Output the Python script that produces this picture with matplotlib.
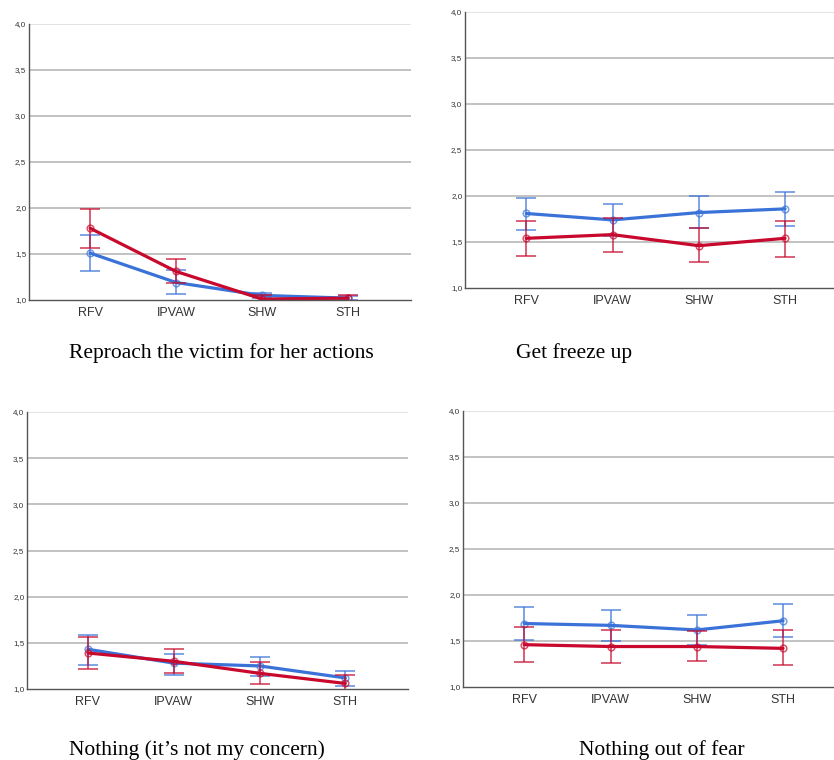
import numpy as np
import matplotlib
matplotlib.use("Agg")
import matplotlib.pyplot as plt
from matplotlib.ticker import FixedLocator, FuncFormatter

categories = ["RFV", "IPVAW", "SHW", "STH"]

titles = ["Reproach the victim for her actions", "Get freeze up",
          "Nothing (it\u2019s not my concern)", "Nothing out of fear"]

# mean, lower CI, upper CI for each group (blue / red)
blue_mean = [[1.51, 1.19, 1.05, 1.02],
             [1.81, 1.74, 1.82, 1.86],
             [1.43, 1.28, 1.25, 1.12],
             [1.69, 1.67, 1.62, 1.72]]
blue_low = [[1.31, 1.07, 1.02, 1.00],
            [1.63, 1.57, 1.65, 1.67],
            [1.26, 1.15, 1.14, 1.03],
            [1.51, 1.50, 1.46, 1.54]]
blue_high = [[1.71, 1.33, 1.08, 1.04],
             [1.98, 1.91, 2.00, 2.04],
             [1.59, 1.38, 1.35, 1.20],
             [1.87, 1.84, 1.78, 1.90]]

red_mean = [[1.78, 1.31, 1.01, 1.02],
            [1.54, 1.58, 1.46, 1.54],
            [1.39, 1.30, 1.17, 1.06],
            [1.46, 1.44, 1.44, 1.42]]
red_low = [[1.57, 1.18, 0.99, 0.99],
           [1.35, 1.39, 1.28, 1.34],
           [1.22, 1.17, 1.05, 0.98],
           [1.27, 1.26, 1.28, 1.24]]
red_high = [[1.99, 1.45, 1.05, 1.05],
            [1.73, 1.76, 1.65, 1.73],
            [1.56, 1.43, 1.29, 1.15],
            [1.65, 1.62, 1.61, 1.62]]

BLUE = "#3a72d8"
RED = "#c8082c"

W, H = 834, 760
# axes boxes in pixels: left, top, right, bottom
boxes = [(29, 24, 411, 300),
         (465, 12, 848, 288),
         (27, 412, 408, 689),
         (463, 411, 846, 687)]
title_pos = [(221, 353), (574, 353), (197, 750), (662, 750)]

fig = plt.figure(figsize=(W / 100, H / 100), dpi=100)


def draw(ax, i):
    x = np.arange(len(categories))
    for mean, lo, hi, col, z in [(blue_mean, blue_low, blue_high, BLUE, 3),
                                 (red_mean, red_low, red_high, RED, 4)]:
        m = np.array(mean[i])
        err = np.vstack([m - np.array(lo[i]), np.array(hi[i]) - m])
        ax.errorbar(x, m, yerr=err, fmt="none", ecolor=col, alpha=0.7,
                    elinewidth=1.3, capsize=7.5, capthick=1.3, zorder=z)
        ax.plot(x, m, color=col, lw=2.3, zorder=z + 1, solid_capstyle="round")
        ax.plot(x, m, "o", ms=4.8, mfc="none", mec=col, mew=1.1, alpha=0.7,
                zorder=z + 1)

    ax.set_xlim(-0.71, 3.73)
    ax.set_ylim(1.0, 4.0)
    ax.set_xticks(x)
    ax.set_xticklabels(categories, fontsize=9, color="#333333",
                       family="Liberation Sans")
    ax.yaxis.set_major_locator(FixedLocator([1.0, 1.5, 2.0, 2.5, 3.0, 3.5, 4.0]))
    ax.yaxis.set_major_formatter(FuncFormatter(lambda v, p: f"{v:.1f}".replace(".", ",")))
    for lab in ax.get_yticklabels():
        lab.set_fontsize(5.8)
        lab.set_color("#333333")
        lab.set_family("Liberation Sans")
    ax.tick_params(axis="both", length=0)
    ax.tick_params(axis="x", pad=5)
    ax.tick_params(axis="y", pad=2)
    for y in [1.5, 2.0, 2.5, 3.0, 3.5]:
        ax.axhline(y, color="#bdbdbd", lw=1.3, zorder=1)
    ax.axhline(4.0, color="#dddddd", lw=1.2, zorder=1)
    for s in ["top", "right"]:
        ax.spines[s].set_visible(False)
    for s in ["left", "bottom"]:
        ax.spines[s].set_color("#555555")
        ax.spines[s].set_linewidth(1.0)
        ax.spines[s].set_zorder(5)


for i, (l, t, r, b) in enumerate(boxes):
    ax = fig.add_axes([l / W, 1 - b / H, (r - l) / W, (b - t) / H])
    draw(ax, i)
    tx, ty = title_pos[i]
    fig.text(tx / W, 1 - ty / H, titles[i], ha="center", va="center",
             fontsize=15.5, family="Liberation Serif")

fig.savefig("out.png", dpi=100)
